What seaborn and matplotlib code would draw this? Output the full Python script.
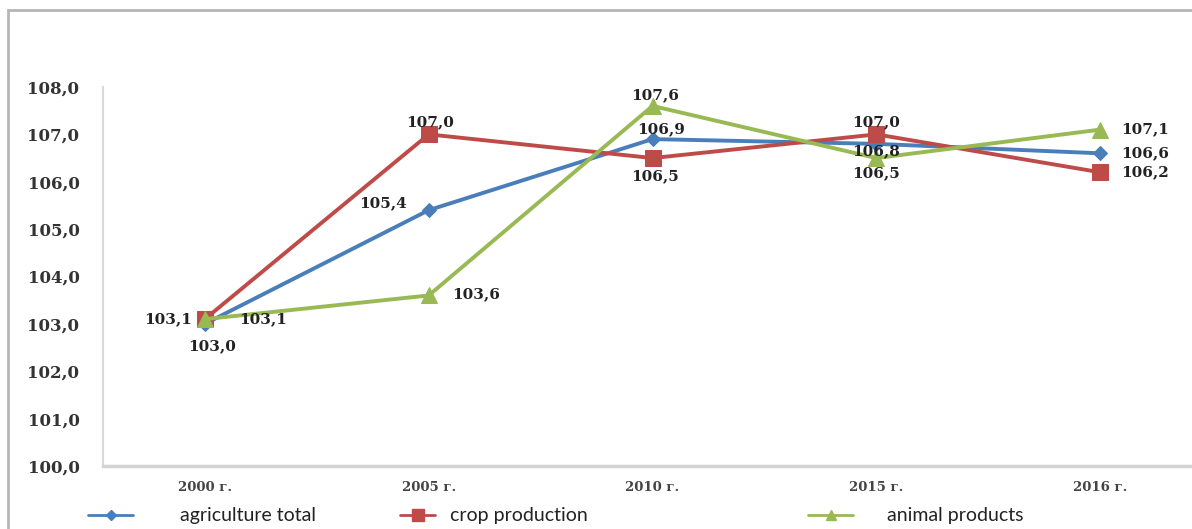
import matplotlib
matplotlib.use("Agg")
import matplotlib.pyplot as plt
import matplotlib.patches as mpatches
from matplotlib.lines import Line2D
import seaborn as sns
import pandas as pd

# ---- data ----
years = ["2000 г.", "2005 г.", "2010 г.", "2015 г.", "2016 г."]
agriculture_total = [103.0, 105.4, 106.9, 106.8, 106.6]
crop_production = [103.1, 107.0, 106.5, 107.0, 106.2]
animal_products = [103.1, 103.6, 107.6, 106.5, 107.1]
series_names = ["agriculture total", "crop production", "animal products"]
y_ticks = [100, 101, 102, 103, 104, 105, 106, 107, 108]

values = [agriculture_total, crop_production, animal_products]
rows = []
for name, vals in zip(series_names, values):
    for i, (yr, v) in enumerate(zip(years, vals)):
        rows.append({"pos": i, "year": yr, "value": v, "series": name})
df = pd.DataFrame(rows)

sns.set_theme(style="white")
plt.rcParams["font.family"] = ["DejaVu Serif"]

colors = {"agriculture total": "#4A7EBB",
          "crop production": "#BE4B48",
          "animal products": "#98B954"}
markers = {"agriculture total": "D",
           "crop production": "s",
           "animal products": "^"}
msizes = {"agriculture total": 7, "crop production": 11, "animal products": 11}

fig = plt.figure(figsize=(11.92, 5.29), dpi=100)
ax = fig.add_axes([103 / 1192, 1 - 466 / 529, 1 - 103 / 1192, (466 - 87) / 529])

for name in series_names:
    sub = df[df["series"] == name]
    sns.lineplot(data=sub, x="pos", y="value", ax=ax, color=colors[name],
                 marker=markers[name], markersize=msizes[name],
                 markeredgecolor=colors[name], linewidth=2.8,
                 sort=False, label=name, legend=False)

ax.set_xlim(-0.455, 4.41)
ax.set_ylim(100, 108)
ax.set_yticks(y_ticks)
ax.set_yticklabels([f"{t:.1f}".replace(".", ",") for t in y_ticks],
                   fontsize=12, fontweight="bold", color="#333333")
ax.set_xticks(range(len(years)))
ax.set_xticklabels(years, fontsize=9.5, fontweight="bold", color="#444444")
ax.tick_params(axis="y", length=0, pad=17)
ax.tick_params(axis="x", length=0, pad=11)
ax.set_xlabel("")
ax.set_ylabel("")
for s in ["top", "right"]:
    ax.spines[s].set_visible(False)
ax.spines["left"].set_color("#d9d9d9")
ax.spines["left"].set_linewidth(1.5)
ax.spines["bottom"].set_color("#d4d4d4")
ax.spines["bottom"].set_linewidth(2.5)
ax.grid(False)

# ---- data labels (offsets in points) ----
offsets = {
    ("agriculture total", 0): (5, -16, "center"),
    ("crop production", 0): (-9, 0, "right"),
    ("animal products", 0): (25, 0, "left"),
    ("agriculture total", 1): (-16, 5, "right"),
    ("crop production", 1): (1, 9, "center"),
    ("animal products", 1): (17, 1, "left"),
    ("agriculture total", 2): (6, 7, "center"),
    ("crop production", 2): (2, -13, "center"),
    ("animal products", 2): (2, 8, "center"),
    ("agriculture total", 3): (0, -5, "center"),
    ("crop production", 3): (0, 9, "center"),
    ("animal products", 3): (0, -11, "center"),
    ("agriculture total", 4): (15, 0, "left"),
    ("crop production", 4): (15, 0, "left"),
    ("animal products", 4): (15, 0, "left"),
}
for name, vals in zip(series_names, values):
    for i, v in enumerate(vals):
        dx, dy, ha = offsets[(name, i)]
        ax.annotate(f"{v:.1f}".replace(".", ","), (i, v),
                    xytext=(dx, dy), textcoords="offset points",
                    ha=ha, va="center", fontsize=11, fontweight="bold",
                    color="#222222")

# ---- legend: three separate entries ----
fs = 14
leg_specs = {"agriculture total": (88, 45, 47, 5),
             "crop production": (400, 35, 15, 8),
             "animal products": (808, 45, 34, 7)}
for name in series_names:
    lx, hl_px, tp_px, ms = leg_specs[name]
    h = Line2D([], [], color=colors[name], marker=markers[name],
               markersize=ms, linewidth=2)
    em_px = fs * 100 / 72
    leg = fig.legend([h], [name], loc="center left",
                     bbox_to_anchor=(lx / 1192, 1 - 516 / 529),
                     frameon=False, handlelength=hl_px / em_px,
                     handletextpad=tp_px / em_px,
                     borderaxespad=0, borderpad=0,
                     prop={"family": "Lato", "size": fs})
    for t in leg.get_texts():
        t.set_color("#222222")

# ---- outer frame ----
fig.patches.append(mpatches.Rectangle((8 / 1192, -0.05), 1.2, 1 - 10 / 529 + 0.05,
                                      transform=fig.transFigure, fill=False,
                                      edgecolor="#b5b5b5", linewidth=2))

fig.savefig("out.png", dpi=100)
